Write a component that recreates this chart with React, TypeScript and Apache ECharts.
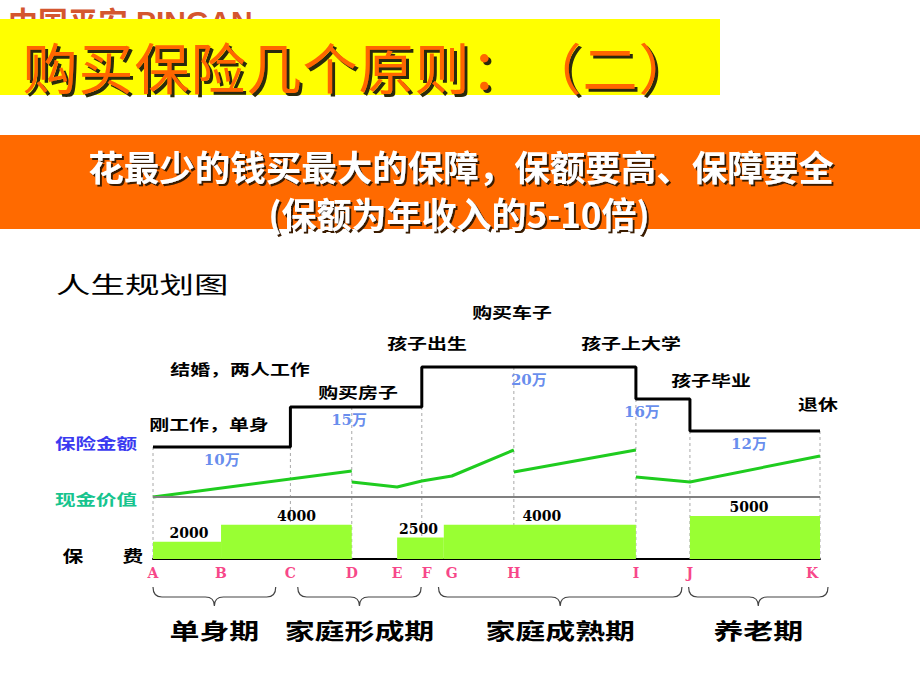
import React, { useEffect, useRef } from 'react';
import * as echarts from 'echarts';

// ---- data ----
const stageNames = ['A', 'B', 'C', 'D', 'E', 'F', 'G', 'H', 'I', 'J', 'K'];
const stageX = [0, 10.2, 20.6, 29.8, 36.6, 40.3, 44.8, 54.1, 72.4, 80.5, 100];

// insurance amount (万), step changes at these stages
const insuranceStart = ['A', 'C', 'F', 'I', 'J'];
const insuranceValue = [10, 15, 20, 16, 12];

// cash value (relative units), four separate segments
const cashSeg1 = [[0, 0], [29.8, 2.6]];
const cashSeg2 = [[29.8, 1.5], [36.6, 1.0], [40.3, 1.6], [44.8, 2.1], [54.1, 4.7]];
const cashSeg3 = [[54.1, 2.5], [72.4, 4.7]];
const cashSeg4 = [[72.4, 2.0], [80.5, 1.5], [100, 4.1]];

// premium (元)
const premiumFrom = [0, 10.2, 36.6, 43.6, 80.5];
const premiumTo = [10.2, 29.8, 43.6, 72.4, 100];
const premiumValue = [2000, 4000, 2500, 4000, 5000];

// dashed divider stages
const dividerStages = ['A', 'C', 'D', 'F', 'H', 'I', 'J', 'K'];

// life periods
const periodNames = ['单身期', '家庭形成期', '家庭成熟期', '养老期'];
const periodFrom = [0, 21.7, 42.8, 80.3];
const periodTo = [18.4, 40.2, 79.3, 101.2];

// life events
const eventNames = ['刚工作，单身', '结婚，两人工作', '购买房子', '孩子出生', '购买车子', '孩子上大学', '孩子毕业', '退休'];

// ---- layout (pixels) ----
const eventPos = [[209, 424], [240, 369], [358, 392], [427, 343], [512, 312], [631, 343], [711, 380], [818, 404]];
const amountNudge = [0, -7, 0, -21, -6];
const premiumNudge = [2, 10, -2, 2, -6];
const letterNudge: Record<string, number> = { F: 5, K: -8 };

const INS_MIN = -4;
const INS_MAX = 25;
const CASH_MIN = -6.2;
const CASH_MAX = 17;
const PREM_MIN = 0;
const PREM_MAX = 27000;

const CJK = "'Noto Sans CJK SC', sans-serif";
const SERIF = "'DejaVu Serif', 'Noto Sans CJK SC', serif";

const X = (name: string) => stageX[stageNames.indexOf(name)];
const K_END = stageX[stageX.length - 1];

function levelAt(x: number, right: boolean) {
  let v = insuranceValue[0];
  insuranceStart.forEach((s, i) => {
    if (right ? X(s) <= x : X(s) < x) v = insuranceValue[i];
  });
  return v;
}

function txt(text: string, x: number, y: number, o: any = {}) {
  const { scaleX = 1, align = 'center', fill = '#000', fontSize = 15, fontWeight = 'bold', fontFamily = CJK } = o;
  const style: any = {
    text,
    fill,
    fontSize,
    fontWeight,
    fontFamily,
    align,
    textAlign: align,
    verticalAlign: 'middle',
    textVerticalAlign: 'middle',
  };
  if (o.shadow) {
    style.textShadowColor = o.shadow;
    style.textShadowOffsetX = o.shadowD;
    style.textShadowOffsetY = o.shadowD;
    style.textShadowBlur = 0.5;
  }
  return { type: 'text', x, y, scaleX, z: o.z ?? 10, style };
}

function buildOption() {
  const stepData: number[][] = insuranceStart.map((s, i) => [X(s), insuranceValue[i]]);
  stepData.push([K_END, insuranceValue[insuranceValue.length - 1]]);

  const amountData = insuranceStart.map((s, i) => {
    const x0 = X(s);
    const x1 = i + 1 < insuranceStart.length ? X(insuranceStart[i + 1]) : K_END;
    return {
      value: [(x0 + x1) / 2, insuranceValue[i]],
      label: { offset: [amountNudge[i], 0] },
    };
  });

  const dividerData = dividerStages.map((s) => {
    const x = X(s);
    return [x, Math.min(levelAt(x, false), levelAt(x, true))];
  });

  const letterData = stageNames.map((n, i) => ({
    value: [stageX[i], INS_MIN],
    name: n,
    label: { offset: [letterNudge[n] || 0, 0] },
  }));

  const premiumData = premiumValue.map((v, i) => [premiumFrom[i], premiumTo[i], v]);
  const periodData = periodNames.map((n, i) => [periodFrom[i], periodTo[i]]);

  const cashSegs = [cashSeg1, cashSeg2, cashSeg3, cashSeg4];

  const graphic: any[] = [];
  // logo (partly hidden by banner)
  graphic.push(txt('中国平安', 8, 20, { align: 'left', fill: '#d4562f', fontSize: 30, fontWeight: 'bold', z: 1 }));
  graphic.push(txt('PINGAN', 136, 21, { align: 'left', fill: '#d4562f', fontSize: 30, fontWeight: 'bold', fontFamily: "'Liberation Sans', sans-serif", z: 1 }));
  graphic.push({ type: 'rect', shape: { x: 0, y: 19, width: 720, height: 76 }, style: { fill: '#ffff00' }, z: 2 });
  // title, laid out one full-width cell per character
  Array.from('购买保险几个原则：（二）').forEach((ch, i) => {
    graphic.push(txt(ch, 50 + i * 56, 65, { fill: '#ff6600', fontSize: 55, fontWeight: 'normal', shadow: '#2a2a10', shadowD: 3 }));
  });
  graphic.push({ type: 'rect', shape: { x: 0, y: 135, width: 920, height: 94 }, style: { fill: '#ff6a00' }, z: 2 });
  graphic.push(txt('花最少的钱买最大的保障，保额要高、保障要全', 461, 165, { fill: '#ffffff', fontSize: 35.5, fontWeight: 'bold', shadow: '#3a1a00', shadowD: 2 }));
  graphic.push(txt('(保额为年收入的5-10倍)', 459, 212, { fill: '#ffffff', fontSize: 35, fontWeight: 'bold', shadow: '#3a1a00', shadowD: 2 }));
  graphic.push(txt('人生规划图', 56, 283, { align: 'left', fontSize: 23, fontWeight: 'normal', scaleX: 1.5 }));
  // left row labels
  graphic.push(txt('保险金额', 96, 442, { fill: '#3a3af0', fontSize: 15, scaleX: 1.37 }));
  graphic.push(txt('现金价值', 96, 498, { fill: '#16c48e', fontSize: 15, scaleX: 1.37 }));
  graphic.push(txt('保', 73, 555, { fontSize: 16, scaleX: 1.3 }));
  graphic.push(txt('费', 133, 555, { fontSize: 16, scaleX: 1.3 }));
  // life events
  eventNames.forEach((n, i) => {
    graphic.push(txt(n, eventPos[i][0], eventPos[i][1], { fontSize: 15, scaleX: 1.33 }));
  });

  const series: any[] = [];

  series.push({
    type: 'custom',
    name: 'dividers',
    yAxisIndex: 0,
    clip: false,
    z: 1,
    data: dividerData,
    encode: { x: 0, y: 1 },
    renderItem: (_p: any, api: any) => {
      const top = api.coord([api.value(0), api.value(1)]);
      const bot = api.coord([api.value(0), INS_MIN]);
      return {
        type: 'line',
        shape: { x1: top[0], y1: top[1], x2: bot[0], y2: bot[1] },
        style: { stroke: '#a8a8a8', lineWidth: 1, lineDash: [3, 3] },
      };
    },
  });

  series.push({
    type: 'custom',
    name: '保费',
    yAxisIndex: 2,
    clip: false,
    z: 2,
    data: premiumData,
    encode: { x: [0, 1], y: 2 },
    renderItem: (params: any, api: any) => {
      const p0 = api.coord([api.value(0), api.value(2)]);
      const p1 = api.coord([api.value(1), PREM_MIN]);
      return {
        type: 'group',
        children: [
          {
            type: 'rect',
            shape: { x: p0[0], y: p0[1], width: p1[0] - p0[0], height: p1[1] - p0[1] },
            style: { fill: '#99ff33' },
          },
          {
            type: 'text',
            x: (p0[0] + p1[0]) / 2 + premiumNudge[params.dataIndex],
            y: p0[1] - 2,
            style: {
              text: String(api.value(2)),
              fill: '#000',
              fontSize: 14,
              fontWeight: 'bold',
              fontFamily: SERIF,
              align: 'center',
              verticalAlign: 'bottom',
            },
          },
        ],
      };
    },
  });

  cashSegs.forEach((seg, i) => {
    series.push({
      type: 'line',
      name: '现金价值',
      yAxisIndex: 1,
      data: seg,
      symbol: 'none',
      z: 3,
      lineStyle: { color: '#1fcc1f', width: 3 },
      markLine:
        i === 0
          ? {
              silent: true,
              symbol: 'none',
              label: { show: false },
              lineStyle: { color: '#808080', width: 2, type: 'solid' },
              data: [{ yAxis: 0 }],
            }
          : undefined,
    });
  });

  series.push({
    type: 'line',
    name: '保险金额',
    yAxisIndex: 0,
    step: 'end',
    data: stepData,
    symbol: 'none',
    z: 4,
    lineStyle: { color: '#000', width: 3 },
  });

  series.push({
    type: 'scatter',
    name: 'amountLabels',
    yAxisIndex: 0,
    symbolSize: 0,
    clip: false,
    data: amountData,
    label: {
      show: true,
      position: 'bottom',
      distance: 5,
      formatter: (p: any) => `${p.value[1]}万`,
      color: '#3f6fe8',
      fontSize: 15,
      fontWeight: 'bold',
      fontFamily: SERIF,
    },
  });

  series.push({
    type: 'scatter',
    name: 'stages',
    yAxisIndex: 0,
    symbolSize: 0,
    clip: false,
    data: letterData,
    label: {
      show: true,
      position: 'bottom',
      distance: 7,
      formatter: (p: any) => p.name,
      color: '#f5146a',
      fontSize: 14,
      fontWeight: 'bold',
      fontFamily: SERIF,
    },
  });

  series.push({
    type: 'custom',
    name: 'periods',
    yAxisIndex: 0,
    clip: false,
    data: periodData,
    encode: { x: [0, 1] },
    renderItem: (params: any, api: any) => {
      const p0 = api.coord([api.value(0), INS_MIN]);
      const p1 = api.coord([api.value(1), INS_MIN]);
      const base = p0[1];
      const x0 = p0[0];
      const x1 = p1[0];
      const xm = (x0 + x1) / 2;
      const ya = base + 28;
      const yb = base + 38;
      const yc = base + 47;
      const r = 9;
      const d = `M${x0},${ya} Q${x0},${yb} ${x0 + r},${yb} L${xm - r},${yb} Q${xm},${yb} ${xm},${yc} Q${xm},${yb} ${xm + r},${yb} L${x1 - r},${yb} Q${x1},${yb} ${x1},${ya}`;
      return {
        type: 'group',
        children: [
          { type: 'path', shape: { pathData: d }, style: { fill: 'none', stroke: '#444', lineWidth: 1.2 } },
          {
            type: 'text',
            x: xm,
            y: base + 71,
            scaleX: 1.36,
            style: {
              text: periodNames[params.dataIndex],
              fill: '#000',
              fontSize: 22,
              fontWeight: 'bold',
              fontFamily: CJK,
              align: 'center',
              verticalAlign: 'middle',
            },
          },
        ],
      };
    },
  });

  return {
    animation: false,
    backgroundColor: '#ffffff',
    grid: { left: 153, right: 100, top: 327, bottom: 131, containLabel: false },
    xAxis: {
      type: 'value',
      min: 0,
      max: 100,
      axisLine: { show: true, onZero: false, lineStyle: { color: '#000', width: 2 } },
      axisTick: { show: false },
      axisLabel: { show: false },
      splitLine: { show: false },
    },
    yAxis: [
      { type: 'value', min: INS_MIN, max: INS_MAX, show: false, splitLine: { show: false } },
      { type: 'value', min: CASH_MIN, max: CASH_MAX, show: false, splitLine: { show: false } },
      { type: 'value', min: PREM_MIN, max: PREM_MAX, show: false, splitLine: { show: false } },
    ],
    graphic,
    series,
  };
}

export default function App() {
  const ref = useRef<HTMLDivElement>(null);
  useEffect(() => {
    if (!ref.current) return;
    const chart = echarts.init(ref.current, null, { renderer: 'svg' });
    chart.setOption(buildOption() as any);
    return () => chart.dispose();
  }, []);
  return (
    <div
      ref={ref}
      style={{ position: 'fixed', left: 0, top: 0, width: 920, height: 690, background: '#fff' }}
    />
  );
}
